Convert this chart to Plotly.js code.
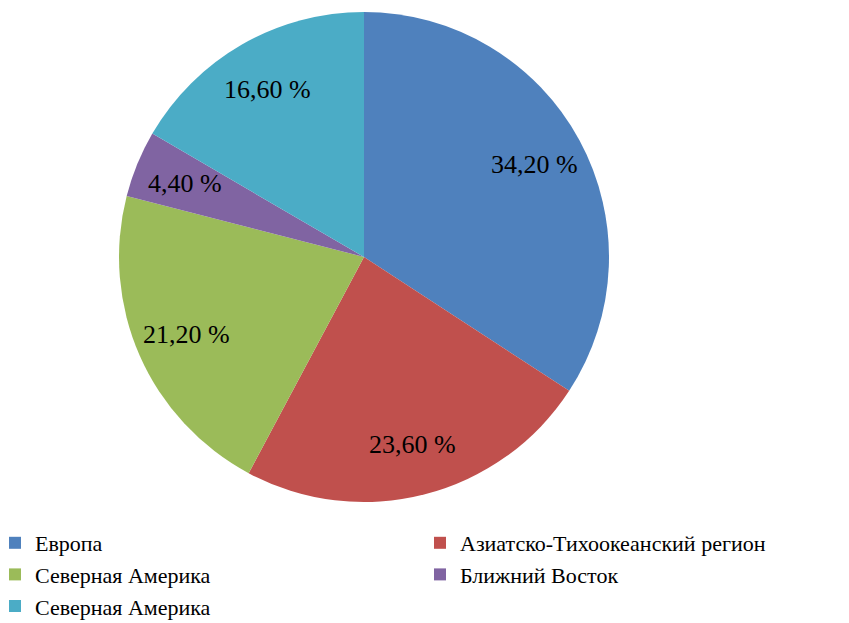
<!DOCTYPE html>
<html>
<head>
<meta charset="utf-8">
<script src="https://cdn.plot.ly/plotly-3.0.1.min.js"></script>
<style>html,body{margin:0;padding:0;background:#fff;}#chart{width:849px;height:623px;}</style>
</head>
<body>
<div id="chart"></div>
<script>
const regions = ["Европа", "Азиатско-Тихоокеанский регион", "Северная Америка", "Ближний Восток", "Северная Америка\u200b"];
const shares = [34.2, 23.6, 21.2, 4.4, 16.6];
const colors = ["#4F81BD", "#C0504D", "#9BBB59", "#8064A2", "#4BACC6"];

const W = 849, H = 623, cx = 364, cy = 257, R = 245;
const MB = 110;              // bottom margin reserved for the legend
const PH = H - MB;           // plot-area height
const FONT = "Liberation Serif";

const trace = {
  type: "pie",
  labels: regions,
  values: shares,
  sort: false,
  direction: "clockwise",
  rotation: 0,
  marker: {colors: colors, line: {width: 0}},
  textinfo: "none",
  hoverinfo: "none",
  domain: {x: [(cx - R) / W, (cx + R) / W], y: [(PH - cy - R) / PH, (PH - cy + R) / PH]}
};

// percentage labels placed at the middle angle of each slice
const total = shares.reduce((a, b) => a + b, 0);
const annotations = [];
let cum = 0;
shares.forEach((v) => {
  const mid = (cum + v / 2) / total * 2 * Math.PI;
  cum += v;
  const rr = 0.79 * R;
  const px = cx + rr * Math.sin(mid);
  const py = cy - rr * Math.cos(mid);
  annotations.push({
    xref: "paper", yref: "paper",
    x: px / W, y: 1 - py / PH,
    xanchor: "center", yanchor: "middle",
    text: v.toFixed(2).replace(".", ",") + " %",
    showarrow: false,
    font: {family: FONT, size: 26, color: "#000"}
  });
});

const layout = {
  width: W, height: H,
  margin: {l: 0, r: 0, t: 0, b: MB, autoexpand: false},
  paper_bgcolor: "#fff",
  showlegend: true,
  annotations: annotations,
  legend: {
    orientation: "h",
    x: -5 / W, xanchor: "left",
    y: -(522 - PH) / PH, yanchor: "top",
    entrywidth: 380, entrywidthmode: "pixels",
    itemwidth: 30,
    font: {family: FONT, size: 22, color: "#000"},
    traceorder: "normal"
  }
};

Plotly.newPlot("chart", [trace], layout, {displayModeBar: false, staticPlot: true});
</script>
</body>
</html>
